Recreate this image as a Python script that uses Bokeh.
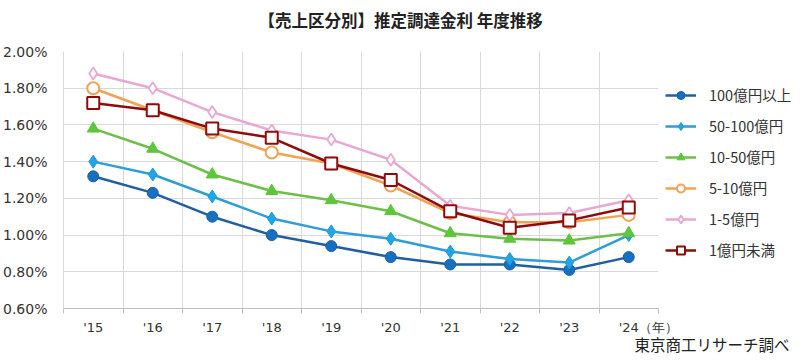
from bokeh.plotting import figure
from bokeh.models import (Range1d, FixedTicker, PrintfTickFormatter, Legend, LegendItem, Title)
from bokeh.embed import file_html
from bokeh.resources import INLINE

years = ["'15", "'16", "'17", "'18", "'19", "'20", "'21", "'22", "'23", "'24"]
year_unit = "（年）"
s_100 = [1.32, 1.23, 1.10, 1.00, 0.94, 0.88, 0.84, 0.84, 0.81, 0.88]
s_50_100 = [1.40, 1.33, 1.21, 1.09, 1.02, 0.98, 0.91, 0.87, 0.85, 1.00]
s_10_50 = [1.58, 1.47, 1.33, 1.24, 1.19, 1.13, 1.01, 0.98, 0.97, 1.01]
s_5_10 = [1.80, 1.68, 1.56, 1.45, 1.39, 1.27, 1.12, 1.07, 1.07, 1.11]
s_1_5 = [1.88, 1.80, 1.67, 1.57, 1.52, 1.41, 1.16, 1.11, 1.12, 1.19]
s_lt1 = [1.72, 1.68, 1.58, 1.53, 1.39, 1.30, 1.13, 1.04, 1.08, 1.15]
names = ["100億円以上", "50-100億円", "10-50億円", "5-10億円", "1-5億円", "1億円未満"]
y_ticks = [0.6, 0.8, 1.0, 1.2, 1.4, 1.6, 1.8, 2.0]
title_text = "【売上区分別】推定調達金利 年度推移"
source_text = "東京商工リサーチ調べ"

JP = "Noto Sans CJK JP"

p = figure(frame_width=595, frame_height=257, output_backend="svg", toolbar_location=None,
           x_range=Range1d(0, len(years)), y_range=Range1d(0.6, 2.0),
           min_border_left=60, min_border_right=145, min_border_top=51, min_border_bottom=54)
p.outline_line_color = None
p.background_fill_color = "white"

xc = [i + 0.5 for i in range(len(years))]
bounds = list(range(len(years) + 1))

p.xaxis.ticker = FixedTicker(ticks=xc + [len(years)], minor_ticks=bounds)
overrides = {x: y for x, y in zip(xc, years)}
overrides[len(years)] = year_unit
p.xaxis.major_label_overrides = overrides
p.xgrid.ticker = FixedTicker(ticks=bounds)
p.yaxis.ticker = FixedTicker(ticks=y_ticks)
p.ygrid.ticker = FixedTicker(ticks=y_ticks)
p.yaxis.formatter = PrintfTickFormatter(format="%.2f%%")

for g in (p.xgrid, p.ygrid):
    g.grid_line_color = "#D9D9D9"
    g.grid_line_width = 1

p.xaxis.axis_line_color = "#BFBFBF"
p.xaxis.major_tick_line_color = None
p.xaxis.minor_tick_line_color = "#BFBFBF"
p.xaxis.minor_tick_out = 5
p.xaxis.minor_tick_in = 0
p.xaxis.major_label_standoff = 5
p.yaxis.axis_line_color = "#D9D9D9"
p.yaxis.major_tick_line_color = None
p.yaxis.minor_tick_line_color = None
p.yaxis.major_label_standoff = 10
for ax in (p.xaxis, p.yaxis):
    ax.major_label_text_font = "DejaVu Sans"
    ax.major_label_text_color = "#333333"
p.xaxis.major_label_text_font_size = "13px"
p.yaxis.major_label_text_font_size = "14px"

styles = [
    (s_100, "#215FA2", "circle", 11, "#1670C2", "#1F5FA0", 1),
    (s_50_100, "#2F9DD6", "diamond", 13, "#1EA6E6", "#1E98D4", 1),
    (s_10_50, "#6CC04A", "triangle", 12, "#5DC63A", "#5DC63A", 1),
    (s_5_10, "#F0A255", "circle", 12, "white", "#F0A255", 2),
    (s_1_5, "#E9A8D2", "diamond", 12, "white", "#E9A8D2", 1.8),
    (s_lt1, "#8E0B0B", "square", 12, "white", "#8E0B0B", 2),
]

items = []
for (vals, lc, mk, sz, fc, mlc, mlw), nm in zip(styles, names):
    r1 = p.line(xc, vals, line_color=lc, line_width=2.5)
    r2 = p.scatter(xc, vals, marker=mk, size=sz, fill_color=fc, line_color=mlc, line_width=mlw)
    items.append(LegendItem(label=nm, renderers=[r1, r2]))

legend = Legend(items=items, location="top_left", padding=0, margin=7, spacing=10,
                glyph_width=31, glyph_height=20, label_height=20, label_standoff=13,
                label_text_font=JP, label_text_font_size="14.5px", label_text_color="#333333",
                title="\u3000", title_text_font_size="14px", title_standoff=8,
                border_line_color=None, background_fill_alpha=0)
p.add_layout(legend, "right")

p.title = Title(text=title_text + "\n\u00a0", text_font=JP, text_font_style="bold",
                text_font_size="16.5px", text_line_height=0.8, align="left", offset=195,
                standoff=0, text_color="#222222")
p.add_layout(Title(text=source_text, text_font=JP, text_font_style="normal",
                   text_font_size="15.5px", align="right", offset=-131, standoff=-10,
                   vertical_align="top", text_color="#222222"), "below")

open("out.html", "w").write(file_html(p, INLINE))
